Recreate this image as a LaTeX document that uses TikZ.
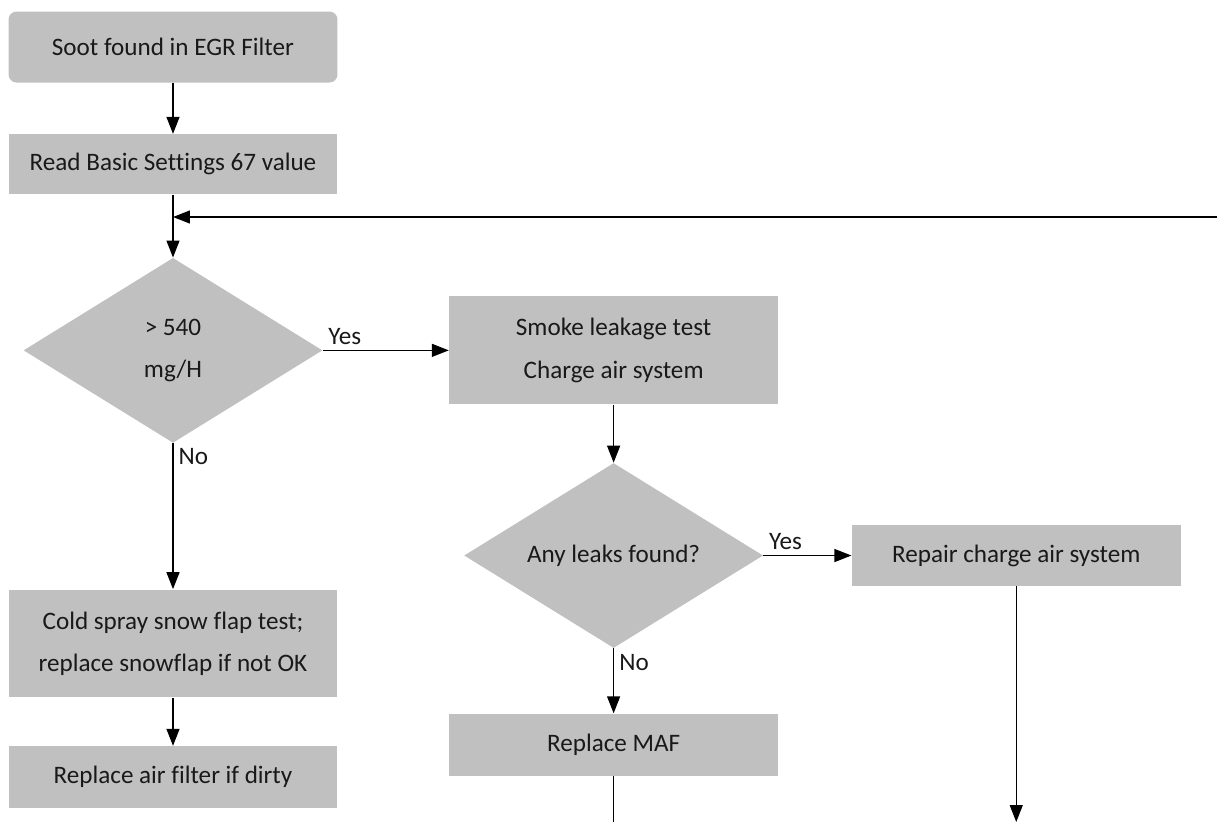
\documentclass[tikz,border=0pt]{standalone}
\usepackage{fontspec}
\setmainfont{Carlito}[Ligatures=CommonOff]
\usepackage{tikz}
\usetikzlibrary{positioning,arrows.meta,shapes.geometric}

\definecolor{boxgray}{RGB}{192,192,192}

\begin{document}
\begin{tikzpicture}[
  x=0.02cm, y=-0.02cm,
  font=\fontsize{14.3}{24}\selectfont,
  box/.style={fill=boxgray, text=black!90, align=center, inner sep=0pt, minimum width=6.58cm},
  startbox/.style={box, rounded corners=0.16cm, minimum height=1.42cm},
  decision/.style={diamond, aspect=1.6, fill=boxgray, text=black!90, align=center, inner sep=0pt, minimum width=5.98cm, minimum height=3.7cm},
  lbl/.style={text=black!90, inner sep=0.1cm},
  arrow/.style={->, >={Triangle[length=0.34cm,width=0.26cm]}, line width=0.75pt},
  line/.style={line width=0.75pt}
]

\useasboundingbox (0,0) rectangle (1217,823);

\node[startbox] (soot) at (173,47) {Soot found in EGR Filter};
\node[box, below=1.02cm of soot, minimum height=1.2cm] (basic) {Read Basic Settings 67 value};
\node[decision, below=1.26cm of basic] (check) {> 540\\mg/H};
\node[box, right=2.52cm of check, minimum height=2.16cm] (smoke) {Smoke leakage test\\Charge air system};
\node[decision, below=1.16cm of smoke] (leaks) {Any leaks found?};
\node[box, right=1.76cm of leaks, minimum height=1.22cm] (repair) {Repair charge air system};
\node[box, below=1.3cm of leaks, minimum height=1.24cm] (maf) {Replace MAF};
\node[box, below=2.92cm of check, minimum height=2.16cm] (snow) {Cold spray snow flap test;\\replace snowflap if not OK};
\node[box, below=0.96cm of snow, minimum height=1.24cm] (airfilter) {Replace air filter if dirty};

\coordinate (loopin) at (1217,217);
\coordinate (bottomline) at (0,822);

\draw[arrow] (soot) -- (basic);
\draw[arrow] (basic) -- (check);
\draw[arrow] (loopin) -- (basic.south |- loopin);
\draw[arrow] (check) -- node[lbl, pos=0, anchor=south west] (yescheck) {Yes} (smoke);
\draw[arrow] (check) -- node[lbl, pos=0, anchor=north west] (nocheck) {No} (snow);
\draw[arrow] (snow) -- (airfilter);
\draw[arrow] (smoke) -- (leaks);
\draw[arrow] (leaks) -- node[lbl, pos=0, anchor=south west] (yesleaks) {Yes} (repair);
\draw[arrow] (leaks) -- node[lbl, pos=0, anchor=north west] (noleaks) {No} (maf);
\draw[arrow] (repair) -- (repair.south |- bottomline);
\draw[line] (maf) -- (maf.south |- bottomline);

\end{tikzpicture}
\end{document}
